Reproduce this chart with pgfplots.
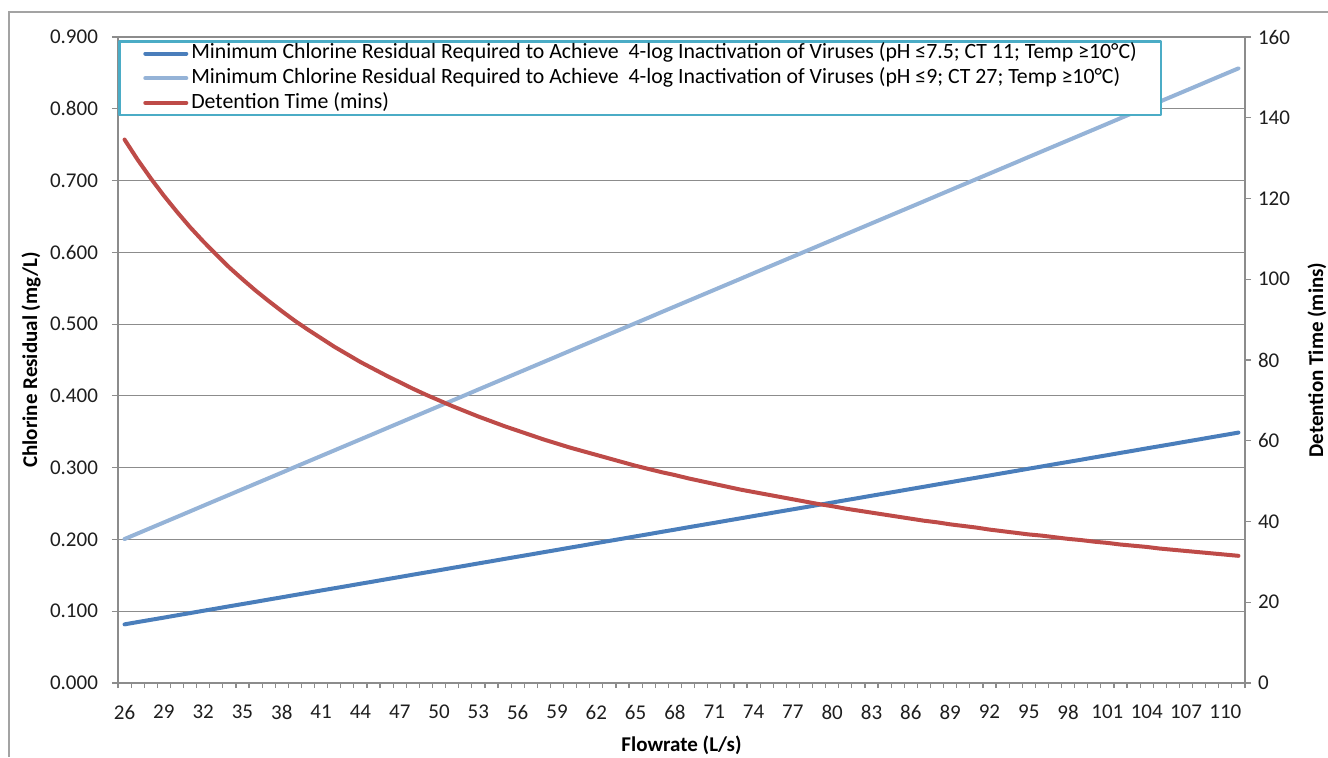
\documentclass[border=0pt]{standalone}
\usepackage{pgfplots}
\usepackage{pgfplotstable}
\pgfplotsset{compat=1.18}
\usepackage{fontspec}
\setmainfont{Carlito}

\definecolor{cldark}{HTML}{4A7EBB}
\definecolor{cllight}{HTML}{95B3D7}
\definecolor{dtred}{HTML}{BE4B48}
\definecolor{gridgray}{HTML}{8C8C8C}
\definecolor{legframe}{HTML}{4BACC6}
\definecolor{ticktext}{HTML}{1E1E1E}

% Flowrate (L/s), minimum residuals for CT 11 and CT 27 (mg/L), detention time (min)
\pgfplotstableread{
Q C1 C2 T
26 0.0817 0.2006 134.6
27 0.0849 0.2083 129.6
28 0.0880 0.2160 125.0
29 0.0911 0.2237 120.7
30 0.0943 0.2314 116.7
31 0.0974 0.2391 112.9
32 0.1006 0.2469 109.4
33 0.1037 0.2546 106.1
34 0.1069 0.2623 102.9
35 0.1100 0.2700 100.0
36 0.1131 0.2777 97.2
37 0.1163 0.2854 94.6
38 0.1194 0.2931 92.1
39 0.1226 0.3009 89.7
40 0.1257 0.3086 87.5
41 0.1289 0.3163 85.4
42 0.1320 0.3240 83.3
43 0.1351 0.3317 81.4
44 0.1383 0.3394 79.5
45 0.1414 0.3471 77.8
46 0.1446 0.3549 76.1
47 0.1477 0.3626 74.5
48 0.1509 0.3703 72.9
49 0.1540 0.3780 71.4
50 0.1571 0.3857 70.0
51 0.1603 0.3934 68.6
52 0.1634 0.4011 67.3
53 0.1666 0.4089 66.0
54 0.1697 0.4166 64.8
55 0.1729 0.4243 63.6
56 0.1760 0.4320 62.5
57 0.1791 0.4397 61.4
58 0.1823 0.4474 60.3
59 0.1854 0.4551 59.3
60 0.1886 0.4629 58.3
61 0.1917 0.4706 57.4
62 0.1949 0.4783 56.5
63 0.1980 0.4860 55.6
64 0.2011 0.4937 54.7
65 0.2043 0.5014 53.8
66 0.2074 0.5091 53.0
67 0.2106 0.5169 52.2
68 0.2137 0.5246 51.5
69 0.2169 0.5323 50.7
70 0.2200 0.5400 50.0
71 0.2231 0.5477 49.3
72 0.2263 0.5554 48.6
73 0.2294 0.5631 47.9
74 0.2326 0.5709 47.3
75 0.2357 0.5786 46.7
76 0.2389 0.5863 46.1
77 0.2420 0.5940 45.5
78 0.2451 0.6017 44.9
79 0.2483 0.6094 44.3
80 0.2514 0.6171 43.8
81 0.2546 0.6249 43.2
82 0.2577 0.6326 42.7
83 0.2609 0.6403 42.2
84 0.2640 0.6480 41.7
85 0.2671 0.6557 41.2
86 0.2703 0.6634 40.7
87 0.2734 0.6711 40.2
88 0.2766 0.6789 39.8
89 0.2797 0.6866 39.3
90 0.2829 0.6943 38.9
91 0.2860 0.7020 38.5
92 0.2891 0.7097 38.0
93 0.2923 0.7174 37.6
94 0.2954 0.7251 37.2
95 0.2986 0.7329 36.8
96 0.3017 0.7406 36.5
97 0.3049 0.7483 36.1
98 0.3080 0.7560 35.7
99 0.3111 0.7637 35.4
100 0.3143 0.7714 35.0
101 0.3174 0.7791 34.7
102 0.3206 0.7869 34.3
103 0.3237 0.7946 34.0
104 0.3269 0.8023 33.7
105 0.3300 0.8100 33.3
106 0.3331 0.8177 33.0
107 0.3363 0.8254 32.7
108 0.3394 0.8331 32.4
109 0.3426 0.8409 32.1
110 0.3457 0.8486 31.8
111 0.3489 0.8563 31.5
}\flowdata

\pgfplotsset{
  chartbase/.style={
    scale only axis, width=563.5pt, height=323pt,
    at={(59pt,37pt)}, anchor=south west,
    xmin=25.5, xmax=111.5,
    font=\fontsize{10.5}{12}\selectfont,
    /pgf/number format/assume math mode=true,
    tick align=outside,
    major tick length=3pt, minor tick length=2.5pt,
    axis line style={gridgray, line width=0.6pt},
    every tick/.style={gridgray, line width=0.6pt},
    tick label style={text=ticktext},
    line join=round,
  },
  series/.style={line width=2pt, line join=round, line cap=round},
}

\begin{document}
\begin{tikzpicture}[x=1pt,y=1pt]
\path[use as bounding box] (0,0) rectangle (664,378.5);
% outer chart frame
\draw[gridgray!80, line width=0.6pt] (4.5,0) -- (4.5,372.5) -- (664,372.5);

\begin{axis}[chartbase,
  axis x line*=bottom, axis y line*=left,
  ymin=0, ymax=0.9,
  ytick={0,0.1,0.2,0.3,0.4,0.5,0.6,0.7,0.8,0.9},
  scaled y ticks=false,
  yticklabel style={xshift=-3.5pt, /pgf/number format/.cd, fixed, fixed zerofill, precision=3},
  ymajorgrids, grid style={gridgray, line width=0.6pt},
  xtick={26,29,...,110},
  major x tick style={draw=none},
  minor xtick={25.5,26.5,...,111.5},
  xticklabel style={yshift=-4.5pt},
  ylabel={\bfseries Chlorine Residual (mg/L)},
  ylabel style={at={(axis description cs:-0.077,0.5)}, anchor=center},
  xlabel={\bfseries Flowrate (L/s)},
  xlabel style={at={(axis description cs:0.5,-0.096)}, anchor=center},
]
\addplot[series, cldark] table[x=Q,y=C1]{\flowdata};
\addplot[series, cllight] table[x=Q,y=C2]{\flowdata};
\end{axis}

\begin{axis}[chartbase,
  axis y line*=right, axis x line=none,
  ymin=0, ymax=160, ytick={0,20,...,160},
  ylabel={\bfseries Detention Time (mins)},
  ylabel style={at={(axis description cs:1.0639,0.5)}, anchor=center},
  legend cell align=left,
  legend image code/.code={\draw[#1] (0pt,0pt) -- (20.5pt,0pt);},
  legend style={at={(axis description cs:0,1)}, anchor=north west, yshift=-1.5pt,
    draw=legframe, line width=1.3pt, fill=white,
    font=\fontsize{10.9}{12}\selectfont,
    inner xsep=12pt, inner ysep=0.8pt,
    column sep=1.5pt, row sep=1.6pt,
    nodes={inner xsep=0pt, inner ysep=0.5pt, text height=7.5pt, text depth=2.2pt}},
]
\addlegendimage{series, cldark}
\addlegendentry{Minimum Chlorine Residual Required to Achieve \ 4-log Inactivation of Viruses (pH ≤7.5; CT 11; Temp ≥10°C)}
\addlegendimage{series, cllight}
\addlegendentry{Minimum Chlorine Residual Required to Achieve \ 4-log Inactivation of Viruses (pH ≤9; CT 27; Temp ≥10°C)}
\addplot[series, dtred] table[x=Q,y=T]{\flowdata};
\addlegendentry{Detention Time (mins)}
\end{axis}
\end{tikzpicture}
\end{document}
